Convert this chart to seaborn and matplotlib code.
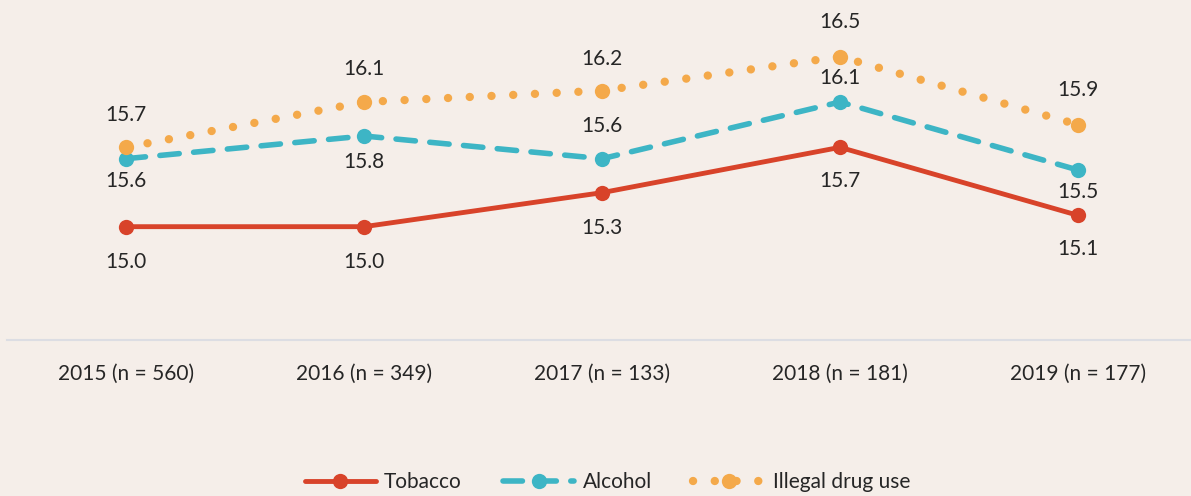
import matplotlib
matplotlib.use("Agg")
import matplotlib.pyplot as plt
import seaborn as sns
import pandas as pd

categories = ["2015 (n = 560)", "2016 (n = 349)", "2017 (n = 133)", "2018 (n = 181)", "2019 (n = 177)"]
tobacco = [15.0, 15.0, 15.3, 15.7, 15.1]
alcohol = [15.6, 15.8, 15.6, 16.1, 15.5]
illegal = [15.7, 16.1, 16.2, 16.5, 15.9]
series_names = ["Tobacco", "Alcohol", "Illegal drug use"]

bg = "#F5EEE9"
colors = {"Tobacco": "#D8432A", "Alcohol": "#3DB5C5", "Illegal drug use": "#F4A94A"}

sns.set_theme(style="white")
plt.rcParams['font.family'] = ['Lato', 'DejaVu Sans']

rows = []
for name, vals in zip(series_names, [tobacco, alcohol, illegal]):
    for i, (c, v) in enumerate(zip(categories, vals)):
        rows.append({"pos": i, "cat": c, "value": v, "series": name})
df = pd.DataFrame(rows)

fig = plt.figure(figsize=(11.91, 4.96), dpi=100, facecolor=bg)
ax = fig.add_axes([0.006, 0.3145, 0.999, 0.6855])
ax.set_facecolor(bg)

styles = {
    "Tobacco": dict(ls="-", lw=3.5),
    "Alcohol": dict(ls=(0, (3.5, 2.6)), lw=4),
    "Illegal drug use": dict(ls=(0, (0.01, 2.6)), lw=6),
}
for name in series_names:
    sub = df[df.series == name]
    st = styles[name]
    sns.lineplot(data=sub, x="pos", y="value", ax=ax, color=colors[name],
                 linewidth=st["lw"], linestyle=st["ls"], marker="o", markersize=11,
                 markeredgewidth=0, label=name, dash_capstyle="round", solid_capstyle="round")

# data label offsets in pixels (positive = above)
offsets = {
    "Tobacco": [-35, -35, -35, -34, -34],
    "Alcohol": [-22, -26, 33, 24, -22],
    "Illegal drug use": [32, 33, 32, 35, 35],
}
for name, vals in zip(series_names, [tobacco, alcohol, illegal]):
    for i, v in enumerate(vals):
        d = offsets[name][i]
        ax.annotate(f"{v:.1f}", (i, v), xytext=(0, d * 0.72), textcoords="offset points",
                    ha="center", va="center", fontsize=15, color="#262626")

ax.set_xlim(-0.5, 4.5)
ax.set_ylim(14, 17)
ax.set_xticks(range(len(categories)))
ax.set_xticklabels(categories, fontsize=15, color="#262626")
ax.tick_params(axis="x", length=0, pad=17)
ax.set_yticks([])
ax.set_xlabel("")
ax.set_ylabel("")
for s in ["top", "right", "left"]:
    ax.spines[s].set_visible(False)
ax.spines["bottom"].set_color("#DCDDE3")
ax.spines["bottom"].set_linewidth(1.5)

ax.get_legend().remove()
handles, labels = ax.get_legend_handles_labels()
fig.legend(handles, labels, loc="center", bbox_to_anchor=(0.51, 0.028), ncol=3, frameon=False,
           fontsize=15, handlelength=3.4, columnspacing=2.0, handletextpad=0.4,
           labelcolor="#262626")

fig.savefig("out.png", dpi=100, facecolor=bg)
